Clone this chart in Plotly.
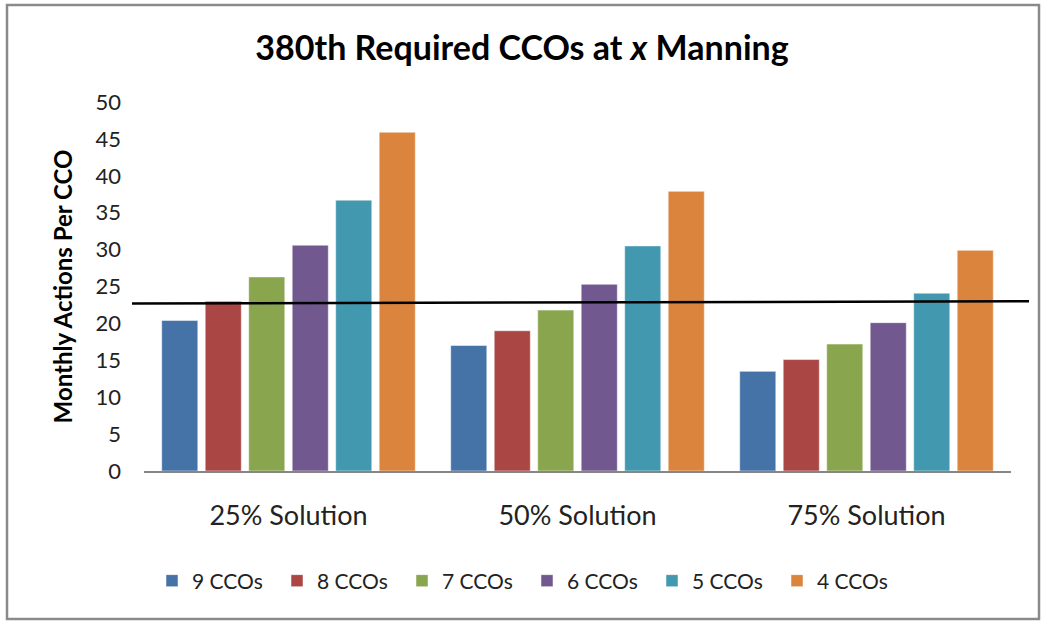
import plotly.graph_objects as go

categories = ["25% Solution", "50% Solution", "75% Solution"]
series_names = ["9 CCOs", "8 CCOs", "7 CCOs", "6 CCOs", "5 CCOs", "4 CCOs"]
values_9 = [20.4, 17.0, 13.5]
values_8 = [23.0, 19.0, 15.1]
values_7 = [26.3, 21.8, 17.2]
values_6 = [30.6, 25.3, 20.1]
values_5 = [36.7, 30.5, 24.1]
values_4 = [45.9, 37.9, 29.9]
target_start = 22.7
target_end = 23.0

colors = ["#4572A7", "#AA4643", "#89A54E", "#71588F", "#4198AF", "#DB843D"]
series_values = [values_9, values_8, values_7, values_6, values_5, values_4]

W, H = 1046, 623
ML, MR, MT, MB = 144, 35, 102, 152
pw, ph = W - ML - MR, H - MT - MB


def px_x(p):
    return (p - ML) / pw


def px_y(p):
    return (H - MB - p) / ph


fig = go.Figure()
for name, vals, col in zip(series_names, series_values, colors):
    fig.add_trace(go.Bar(x=categories, y=vals, name=name, marker_color=col,
                         marker_line=dict(color="rgba(255,255,255,0.5)", width=1)))

font = "Lato, 'Open Sans', sans-serif"
fig.update_layout(
    width=W, height=H,
    margin=dict(l=ML, r=MR, t=MT, b=MB),
    paper_bgcolor="white", plot_bgcolor="white",
    barmode="group", bargap=0.097, bargroupgap=0.17,
    font=dict(family=font, color="#222", size=20),
    title=dict(text="<b>380th Required CCOs at <i>x</i> Manning</b>",
               x=522 / W, xref="container", xanchor="center", y=1 - 48 / H, yanchor="middle",
               font=dict(size=34, color="black")),
    showlegend=True,
    legend=dict(orientation="h", x=0.5 * (172 + 882) / W, xref="container", xanchor="center",
                y=1 - 581 / H, yref="container", yanchor="middle",
                font=dict(size=21), entrywidth=80, itemwidth=30, traceorder="normal"),
    xaxis=dict(showline=True, linecolor="#868686", linewidth=2, ticks="",
               tickfont=dict(size=27), ticklabelstandoff=20, showgrid=False),
    yaxis=dict(range=[0, 50], dtick=5, showgrid=False, zeroline=False, showline=False,
               tickfont=dict(size=22), ticklabelstandoff=22,
               title=dict(text="<b>Monthly Actions Per CCO</b>", font=dict(size=24, color="black"),
                          standoff=16)),
)

# target line (extends past the plot area as in the original)
fig.add_shape(type="line", xref="paper", yref="y", x0=px_x(132), x1=px_x(1029),
              y0=target_start, y1=target_end, line=dict(color="black", width=2.5))

# outer chart border
fig.add_shape(type="rect", xref="paper", yref="paper",
              x0=px_x(7), x1=px_x(1039), y0=px_y(5), y1=px_y(619),
              line=dict(color="#8a8a8a", width=2.5), layer="below")

fig.write_html("out.html", config={"displayModeBar": False},
               post_script="document.body.style.margin='0';")
